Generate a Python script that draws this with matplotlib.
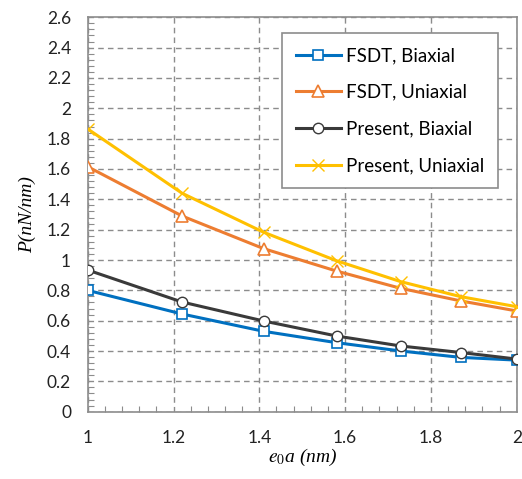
import matplotlib
matplotlib.use("Agg")
import matplotlib.pyplot as plt
from matplotlib.ticker import MultipleLocator

plt.rcParams['font.family'] = ['Lato', 'DejaVu Sans']
plt.rcParams['mathtext.fontset'] = 'stix'

# data
e0a = [1.0, 1.22, 1.41, 1.58, 1.73, 1.87, 2.0]
fsdt_biaxial = [0.80, 0.644, 0.53, 0.455, 0.40, 0.358, 0.34]
fsdt_uniaxial = [1.615, 1.29, 1.075, 0.927, 0.813, 0.73, 0.664]
present_biaxial = [0.934, 0.723, 0.598, 0.499, 0.433, 0.39, 0.347]
present_uniaxial = [1.864, 1.44, 1.183, 0.995, 0.857, 0.758, 0.692]

fig = plt.figure(figsize=(5.22, 4.79), dpi=100)
ax = fig.add_axes([0.168, 0.1405, 0.822, 0.8234])

ax.plot(e0a, fsdt_biaxial, color='#0070C0', lw=2.2, marker='s', ms=7,
        mfc='white', mec='#0070C0', mew=1.2, label='FSDT, Biaxial', zorder=3)
ax.plot(e0a, fsdt_uniaxial, color='#ED7D31', lw=2.2, marker='^', ms=8,
        mfc='white', mec='#ED7D31', mew=1.2, label='FSDT, Uniaxial', zorder=3)
ax.plot(e0a, present_biaxial, color='#3A3A3A', lw=2.2, marker='o', ms=7.5,
        mfc='white', mec='#3A3A3A', mew=1.0, label='Present, Biaxial', zorder=3)
ax.plot(e0a, present_uniaxial, color='#FFC000', lw=2.2, marker='x', ms=9,
        mec='#FFC000', mew=1.0, label='Present, Uniaxial', zorder=3)

ax.set_xlim(1, 2)
ax.set_ylim(0, 2.6)
ax.xaxis.set_major_locator(MultipleLocator(0.2))
ax.xaxis.set_minor_locator(MultipleLocator(0.04))
ax.yaxis.set_major_locator(MultipleLocator(0.2))
ax.yaxis.set_minor_locator(MultipleLocator(0.04))
ax.set_xticklabels([f'{v:g}' for v in ax.get_xticks()])
ax.set_yticklabels([f'{v:g}' for v in ax.get_yticks()])

ax.tick_params(which='major', length=0, labelsize=12.5, colors='#222222', pad=12)
ax.tick_params(axis='x', which='major', pad=13)
ax.tick_params(which='minor', direction='in', length=4, width=0.8, color='#8C8C8C')
ax.tick_params(which='minor', top=False, right=False)

ax.grid(which='major', color='#8C8C8C', ls=(0, (4, 3)), lw=1.0)
for s in ax.spines.values():
    s.set_color('#8C8C8C')
    s.set_linewidth(1.2)

serif = dict(family=['Liberation Serif', 'DejaVu Serif'], style='italic', fontsize=14)
ax.set_xlabel(r'$e_0$a (nm)', labelpad=1, **serif)
ax.set_ylabel('P(nN/nm)', labelpad=8, **serif)

leg = ax.legend(loc='upper right', bbox_to_anchor=(0.956, 0.960), borderaxespad=0,
                fontsize=13.5, labelspacing=1.05, handlelength=2.4, handletextpad=0.25,
                borderpad=0.75, fancybox=False, framealpha=1)
leg.get_frame().set_edgecolor('#8C8C8C')
leg.get_frame().set_linewidth(1.2)

fig.savefig('out.png', dpi=100)
